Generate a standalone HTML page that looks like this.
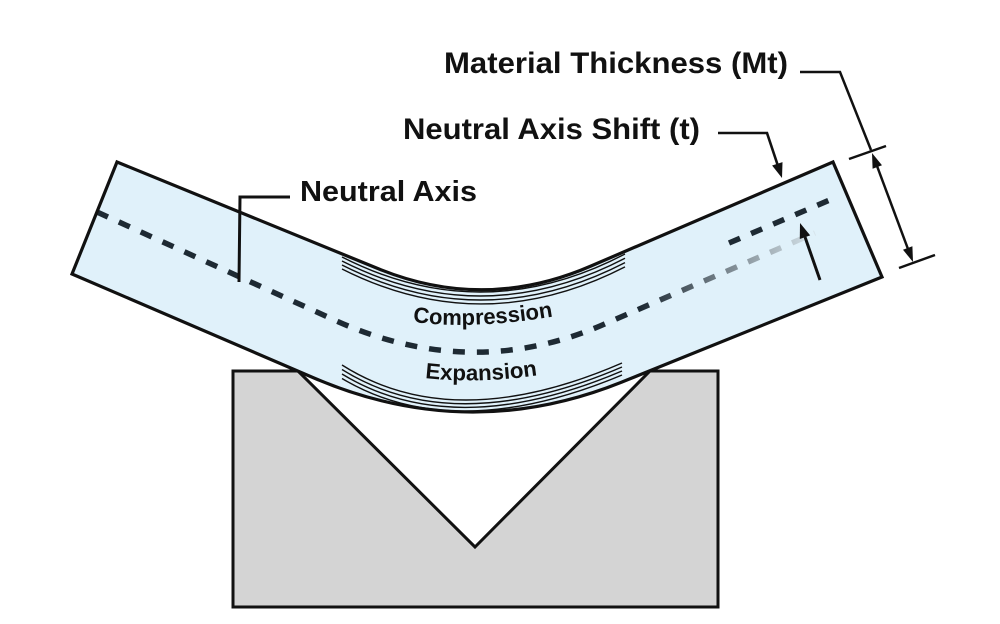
<!DOCTYPE html>
<html><head><meta charset="utf-8">
<style>
html,body{margin:0;padding:0;background:#fff;}
svg{display:block;}
text{font-family:"Liberation Sans",Arial,sans-serif;font-weight:bold;fill:#111;}
</style></head>
<body>
<svg width="1000" height="624" viewBox="0 0 1000 624" xmlns="http://www.w3.org/2000/svg">
<defs>
  <linearGradient id="fade" gradientUnits="userSpaceOnUse" x1="640" y1="0" x2="820" y2="0">
    <stop offset="0" stop-color="#1e2a33"/>
    <stop offset="1" stop-color="#dce9f0"/>
  </linearGradient>
  <path id="cp" d="M413,322 Q475,330 556,316"/>
  <path id="ep" d="M425,378 Q480,384 540,375"/>
</defs>

<!-- die -->
<path d="M233,371 L298,371 L475,547 L650,371 L718,371 L718,607 L233,607 Z" fill="#d4d4d4" stroke="#111" stroke-width="3" stroke-linejoin="miter"/>

<!-- sheet fill -->
<path d="M117,162 L379,269 Q485,312 591,266 L833,162 L882,277 L622,382 Q468,444 314,378 L72,274 Z" fill="#e0f1fa"/>

<!-- neutral axis dashed (fading) -->
<path d="M97,212 L330,318 Q467,382 600,326 L815,233" fill="none" stroke="url(#fade)" stroke-width="5.5" stroke-dasharray="12 12"/>
<!-- shifted neutral axis -->
<path d="M729,243 L832,199" fill="none" stroke="#1e2a33" stroke-width="5.5" stroke-dasharray="12 12"/>

<!-- compression lines -->
<g fill="none" stroke="#111" stroke-width="1.4">
  <path d="M342,257 Q482.5,328.5 625,254"/>
  <path d="M342,261 Q482.5,332.3 625,258.3"/>
  <path d="M342,265 Q482.5,336.2 625,262.6"/>
  <path d="M342,269 Q482.5,340 625,266.9"/>
</g>
<!-- expansion lines -->
<g fill="none" stroke="#111" stroke-width="1.4">
  <path d="M342,365 Q454,436 622,363"/>
  <path d="M342,369.5 Q454,439.2 622,367"/>
  <path d="M342,374 Q454,442.3 622,371"/>
  <path d="M342,378.5 Q454,445.3 622,375"/>
</g>

<!-- sheet outline -->
<path d="M117,162 L379,269 Q485,312 591,266 L833,162 L882,277 L622,382 Q468,444 314,378 L72,274 Z" fill="none" stroke="#111" stroke-width="3.2" stroke-linejoin="miter"/>

<!-- neutral axis leader -->
<polyline points="290,197 240,197 239,282" fill="none" stroke="#111" stroke-width="3"/>

<!-- shift leader -->
<polyline points="718,133 767,133 778,166" fill="none" stroke="#111" stroke-width="2.6"/>
<polygon points="782,178 782.5,162.1 772.1,165.5" fill="#111"/>

<!-- shift arrow -->
<line x1="820" y1="280" x2="805" y2="237" stroke="#111" stroke-width="3"/>
<polygon points="800,223 810.2,235.4 799.8,239" fill="#111"/>

<!-- material thickness leader and dimension -->
<polyline points="800,72 840,72 871,150" fill="none" stroke="#111" stroke-width="2.5"/>
<line x1="849" y1="159" x2="886" y2="146" stroke="#111" stroke-width="2.5"/>
<line x1="899" y1="268" x2="935" y2="255" stroke="#111" stroke-width="2.5"/>
<line x1="877" y1="166" x2="908" y2="249" stroke="#111" stroke-width="2.5"/>
<polygon points="872,153 882,165.2 872.6,168.8" fill="#111"/>
<polygon points="913,262 912.4,246.2 903,249.8" fill="#111"/>

<!-- labels -->
<text x="444" y="73" font-size="30" textLength="344" lengthAdjust="spacingAndGlyphs">Material Thickness (Mt)</text>
<text x="403" y="139" font-size="30" textLength="297" lengthAdjust="spacingAndGlyphs">Neutral Axis Shift (t)</text>
<text x="300" y="201" font-size="29" textLength="177" lengthAdjust="spacingAndGlyphs">Neutral Axis</text>

<text font-size="22"><textPath href="#cp" textLength="141" lengthAdjust="spacingAndGlyphs">Compression</textPath></text>
<text font-size="22"><textPath href="#ep" textLength="113" lengthAdjust="spacingAndGlyphs">Expansion</textPath></text>
</svg>
</body></html>
